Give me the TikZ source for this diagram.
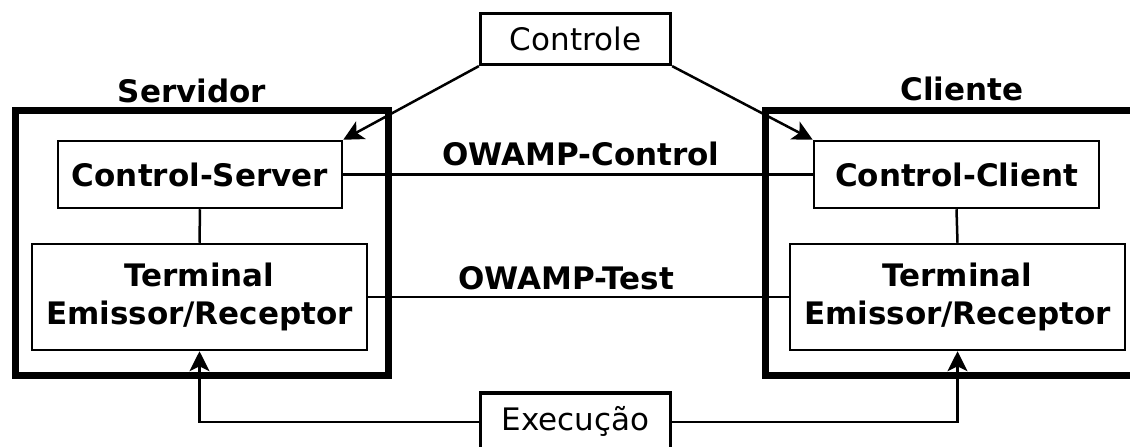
\documentclass[tikz,border=0pt]{standalone}
\usepackage{fontspec}
\setmainfont{DejaVu Sans}
\usetikzlibrary{arrows.meta}
\begin{document}
\begin{tikzpicture}[x=1pt,y=-1pt,
  font=\fontsize{31}{38}\selectfont,
  container/.style={draw, line width=7.5pt, inner sep=0pt},
  unit/.style={draw, line width=2.5pt, inner sep=0pt, align=center, font=\fontsize{31}{38}\selectfont\bfseries},
  ext/.style={draw, line width=3.2pt, inner sep=0pt},
  title/.style={font=\fontsize{31}{38}\selectfont\bfseries, inner sep=0pt},
  link/.style={line width=2.5pt},
  arr/.style={link, -{Stealth[length=20pt,width=20pt,inset=5pt,fill=black]}}]
  \clip (0,0) rectangle (1130,447);

  % host enclosures
  \node[container, minimum width=373pt, minimum height=265pt] (srv) at (202,243) {};
  \node[container, minimum width=385pt, minimum height=265pt] (cli) at (958,243) {};
  \node[title] (srvlbl) at (192,91) {Servidor};
  \node[title] (clilbl) at (962,89) {Cliente};

  % components inside each host
  \node[unit, minimum width=284pt, minimum height=67pt] (cs) at (200,174.5) {Control-Server};
  \node[unit, minimum width=335pt, minimum height=106pt] (ts) at (199.5,297) {Terminal\\Emissor/Receptor};
  \node[unit, minimum width=285pt, minimum height=67pt] (cc) at (956.5,174.5) {Control-Client};
  \node[unit, minimum width=335pt, minimum height=106pt] (tc) at (957.5,297) {Terminal\\Emissor/Receptor};

  % external entities
  \node[ext, minimum width=190pt, minimum height=51pt] (ctrl) at (575.5,39) {Controle};
  \node[ext, minimum width=190pt, minimum height=58pt] (exec) at (575.5,422) {};
  \node[inner sep=0pt] (exectxt) at (575.5,421) {Execução};

  % protocol labels
  \node[title] (owc) at (581,154) {OWAMP-Control};
  \node[title] (owt) at (566,278) {OWAMP-Test};

  % connections
  \draw[link] (cs.east) -- (cc.west);
  \draw[link] (ts.east) -- (tc.west);
  \draw[link] (cs.south) -- (ts.north);
  \draw[link] (cc.south) -- (tc.north);
  \draw[arr] (ctrl.south west) -- (cs.north east);
  \draw[arr] (ctrl.south east) -- (cc.north west);
  \draw[arr] (exec.west) -| (ts.south);
  \draw[arr] (exec.east) -| (tc.south);
\end{tikzpicture}
\end{document}
